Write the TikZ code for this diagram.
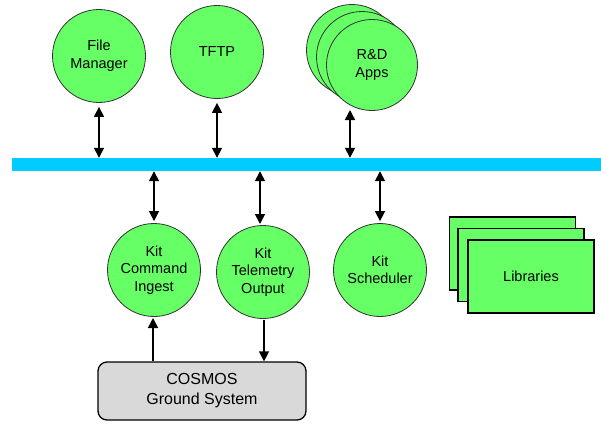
\documentclass[tikz,border=0pt]{standalone}
\usepackage{fontspec}
\setmainfont{Liberation Sans}
\usetikzlibrary{arrows.meta}
\definecolor{appgreen}{HTML}{66FF66}
\definecolor{busblue}{HTML}{00CCFF}
\definecolor{groundgray}{HTML}{D9D9D9}
\tikzset{
  app/.style={circle, draw=black!80, line width=0.8pt, fill=appgreen,
    minimum size=93pt, inner sep=0pt, align=center, font=\fontsize{14.5}{17.5}\selectfont},
  libbox/.style={draw=black, line width=1.3pt, fill=appgreen, minimum width=126pt,
    minimum height=73pt, inner sep=0pt, font=\fontsize{14.5}{17.5}\selectfont},
  link/.style={line width=1.5pt, {Triangle[width=10pt,length=10pt]}-{Triangle[width=10pt,length=10pt]}},
  oneway/.style={line width=1.5pt, -{Triangle[width=10pt,length=10pt]}},
}
\begin{document}
\begin{tikzpicture}[x=1pt, y=-1pt]
\useasboundingbox (0,0) rectangle (601,423);

% software bus
\node[fill=busblue, minimum width=589pt, minimum height=13pt, inner sep=0pt] (bus) at (306.5,164.5) {};

% applications above the bus
\node[app] (fm) at (99,56) {File\\Manager};
\node[app] (tftp) at (217,52) {TFTP};
\node[app, minimum size=91pt] (rd3) at (352,50) {};
\node[app, minimum size=91pt] (rd2) at (362,57) {};
\node[app, minimum size=91pt] (rd) at (372,65) {R\&D\\Apps};
\coordinate (rdport) at (350,110);

% applications below the bus
\node[app] (ci) at (154,270) {Kit\\Command\\Ingest};
\node[app] (to) at (263,272) {Kit\\Telemetry\\Output};
\node[app] (sch) at (380,270) {Kit\\Scheduler};

% libraries stack
\node[libbox] (lib3) at (512.5,253.5) {};
\node[libbox] (lib2) at (521,265) {};
\node[libbox] (lib) at (531,276.5) {Libraries};

% ground system
\node[draw=black, line width=1.3pt, fill=groundgray, rounded corners=9pt,
  minimum width=208pt, minimum height=58pt, align=center,
  font=\fontsize{16}{20}\selectfont] (cosmos) at (202,391) {COSMOS\\Ground System};

% bus connections
\draw[link, shorten <=4pt] (fm.south) -- (fm.south |- bus.north);
\draw[link, shorten <=4pt] (tftp.south) -- (tftp.south |- bus.north);
\draw[link] (rdport) -- (rdport |- bus.north);
\draw[link, shorten >=2pt] (ci.north |- bus.south) -- (ci.north);
\draw[link] (260,0 |- bus.south) -- (260,224);
\draw[link, shorten >=2pt] (sch.north |- bus.south) -- (sch.north);

% ground links
\draw[oneway] (153,0 |- cosmos.north) -- (153,318);
\draw[oneway] (264,320) -- (264,0 |- cosmos.north);
\end{tikzpicture}
\end{document}
